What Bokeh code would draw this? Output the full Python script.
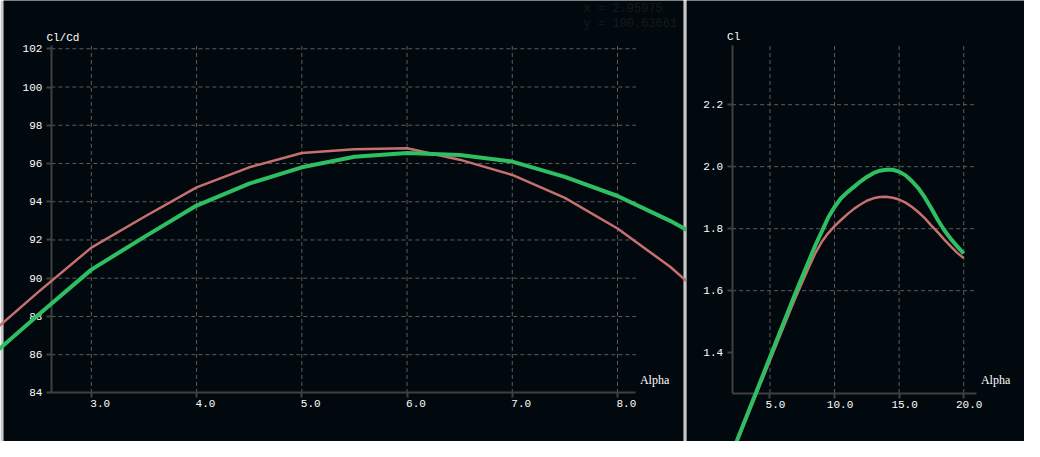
from bokeh.plotting import figure
from bokeh.models import LinearAxis, FixedTicker, NumeralTickFormatter
from bokeh.layouts import row
from bokeh.core.properties import value
from bokeh.embed import file_html
from bokeh.resources import INLINE

# ---------------- data ----------------
# Left panel: Cl/Cd versus Alpha
alpha_l = [2.0, 2.5, 3.0, 3.5, 4.0, 4.5, 5.0, 5.5, 6.0, 6.5, 7.0, 7.5, 8.0, 8.5, 9.0]
clcd_red = [86.9, 89.3, 91.6, 93.2, 94.75, 95.8, 96.55, 96.75, 96.8, 96.2, 95.4, 94.2, 92.6, 90.6, 88.2]
clcd_green = [85.7, 88.1, 90.45, 92.15, 93.8, 94.95, 95.8, 96.35, 96.55, 96.45, 96.1, 95.3, 94.3, 93.0, 91.5]

# Right panel: Cl versus Alpha
alpha_r = [0, 1, 2, 3, 4, 5, 6, 7, 8, 8.5, 9, 9.5, 10, 10.5, 11, 11.5, 12, 12.5, 13, 13.5,
           14, 14.5, 15, 15.5, 16, 16.5, 17, 17.5, 18, 18.5, 19, 19.5, 20]
cl_red = [0.86, 0.963, 1.066, 1.17, 1.272, 1.375, 1.478, 1.58, 1.675, 1.72, 1.757, 1.785,
          1.808, 1.828, 1.847, 1.864, 1.878, 1.89, 1.898, 1.902, 1.903, 1.9, 1.894, 1.884,
          1.87, 1.853, 1.833, 1.81, 1.788, 1.765, 1.743, 1.722, 1.705]
cl_green = [0.86, 0.965, 1.07, 1.175, 1.28, 1.385, 1.49, 1.595, 1.695, 1.745, 1.79, 1.835,
            1.87, 1.898, 1.918, 1.935, 1.952, 1.967, 1.979, 1.987, 1.99, 1.99, 1.984, 1.972,
            1.953, 1.93, 1.9, 1.865, 1.828, 1.795, 1.767, 1.743, 1.72]

# ticks and labels
xticks_l = [3.0, 4.0, 5.0, 6.0, 7.0, 8.0]
xlabels_l = ["3.0", "4.0", "5.0", "6.0", "7.0", "8.0"]
yticks_l = [84, 86, 88, 90, 92, 94, 96, 98, 100, 102]
xticks_r = [5.0, 10.0, 15.0, 20.0]
xlabels_r = ["5.0", "10.0", "15.0", "20.0"]
yticks_r = [1.4, 1.6, 1.8, 2.0, 2.2]

readout = ["x =   2.95975", "y = 100.63661"]

# ---------------- style ----------------
BG = "#02090e"
GRID = "#5c5c5c"
AXIS = "#404040"
STRIPE = "#c8c8c8"
RED = "#c87070"
GREEN = "#2fbf62"
MONO = value("Liberation Mono")
SERIF = value("Liberation Serif")
H = 441


def base_fig(width, xr, yr, bl, br):
    p = figure(width=width, height=H, x_range=xr, y_range=yr,
               output_backend="svg", toolbar_location=None,
               x_axis_location=None, y_axis_location=None,
               background_fill_color=BG, border_fill_color=STRIPE,
               min_border_left=bl, min_border_right=br,
               min_border_top=0, min_border_bottom=0)
    p.outline_line_color = None
    p.xgrid.visible = False
    p.ygrid.visible = False
    return p


def add_axes(p, xloc, yloc, xb, yb, xt, yt, yfmt):
    yax = LinearAxis(fixed_location=xloc, ticker=FixedTicker(ticks=yt), bounds=yb,
                     formatter=NumeralTickFormatter(format=yfmt))
    xax = LinearAxis(fixed_location=yloc, ticker=FixedTicker(ticks=xt), bounds=xb)
    for ax in (xax, yax):
        ax.axis_line_color = AXIS
        ax.axis_line_width = 2
        ax.major_tick_line_color = AXIS
        ax.major_tick_line_width = 2
        ax.major_tick_out = 5
        ax.major_tick_in = 0
        ax.minor_tick_line_color = None
        ax.major_label_text_color = "white"
        ax.major_label_text_font = "Liberation Mono"
        ax.major_label_text_font_size = "11px"
        ax.major_label_standoff = 4
    xax.major_label_text_color = None
    p.add_layout(yax, "left")
    p.add_layout(xax, "below")


def add_grid(p, xb, yb, xt, yt):
    p.segment(x0=xt, y0=yb[0], x1=xt, y1=yb[1], line_color=GRID, line_width=1, line_dash="4 3")
    p.segment(x0=xb[0], y0=yt[1:], x1=xb[1], y1=yt[1:], line_color=GRID, line_width=1, line_dash="4 3")


# ---------------- left panel ----------------
left = base_fig(686, (2.165, 8.627), (81.46, 104.525), 3, 3)
xb_l = (2.62, 8.175)
yb_l = (84, 102.15)
add_grid(left, xb_l, yb_l, xticks_l, yticks_l)
left.line(alpha_l, clcd_red, line_color=RED, line_width=2.5, line_join="round", level="overlay")
left.line(alpha_l, clcd_green, line_color=GREEN, line_width=4, line_join="round", level="overlay")
add_axes(left, xb_l[0], yb_l[0], xb_l, yb_l, xticks_l, yticks_l, "0")
left.text(x=xticks_l, y=[yb_l[0]] * len(xticks_l), text=xlabels_l, x_offset=-1, y_offset=11,
          text_align="left", text_baseline="middle", text_color="white",
          text_font=MONO, text_font_size="11px")
left.text(x=[xb_l[0]], y=[yb_l[1]], text=["Cl/Cd"], x_offset=-5, y_offset=-8,
          text_align="left", text_baseline="middle", text_color="white",
          text_font=MONO, text_font_size="11px")
left.text(x=[xb_l[1]], y=[yb_l[0]], text=["Alpha"], x_offset=4, y_offset=-13,
          text_align="left", text_baseline="middle", text_color="white",
          text_font=SERIF, text_font_size="12px")
left.text(x=[8.567, 8.567], y=[104.1, 103.3], text=readout,
          text_align="right", text_baseline="middle", text_color="#15191d",
          text_font=MONO, text_font_size="12px")

# ---------------- right panel ----------------
right = base_fig(338, (-1.462, 24.707), (1.1136, 2.536), 0, 0)
xb_r = (2.07, 21.02)
yb_r = (1.27, 2.391)
add_grid(right, xb_r, yb_r, xticks_r, yticks_r)
right.line(alpha_r, cl_red, line_color=RED, line_width=2.5, line_join="round", level="overlay")
right.line(alpha_r, cl_green, line_color=GREEN, line_width=4, line_join="round", level="overlay")
add_axes(right, xb_r[0], yb_r[0], xb_r, yb_r, xticks_r, yticks_r, "0.0")
right.text(x=xticks_r, y=[yb_r[0]] * len(xticks_r), text=xlabels_r, x_offset=5.5, y_offset=11,
           text_align="center", text_baseline="middle", text_color="white",
           text_font=MONO, text_font_size="11px")
right.text(x=[xb_r[0]], y=[yb_r[1]], text=["Cl"], x_offset=-5, y_offset=-8,
           text_align="left", text_baseline="middle", text_color="white",
           text_font=MONO, text_font_size="11px")
right.text(x=[xb_r[1]], y=[yb_r[0]], text=["Alpha"], x_offset=4, y_offset=-13,
           text_align="left", text_baseline="middle", text_color="white",
           text_font=SERIF, text_font_size="12px")

layout = row(left, right, spacing=0)
open("out.html", "w").write(file_html(layout, INLINE))
